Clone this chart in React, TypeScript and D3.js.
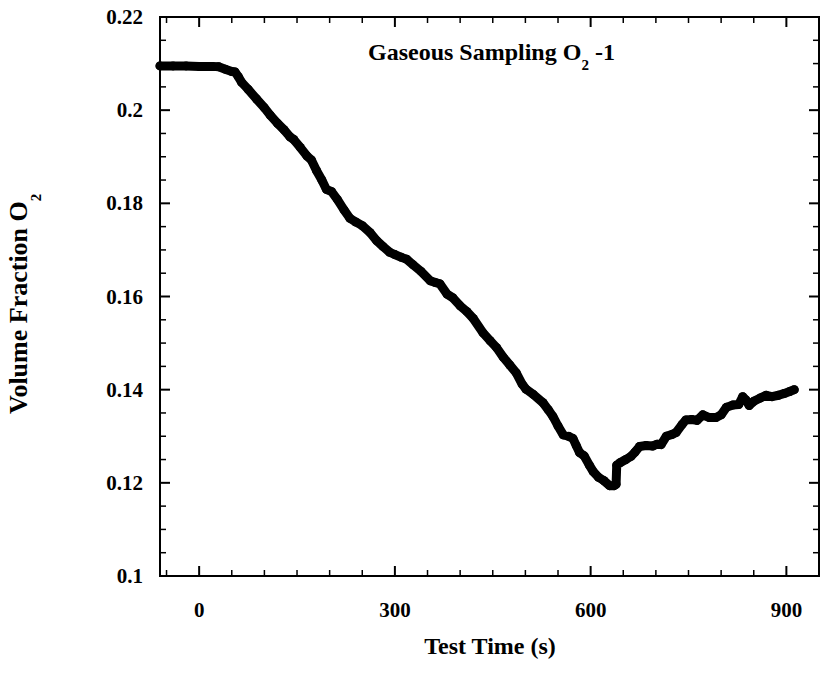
import React from "react";
import * as d3 from "d3";

const times: number[] = [-60, -40, -20, 0, 20, 30, 40, 50, 55, 60, 65, 75, 88, 100, 109, 120, 130, 139, 145, 155, 165, 172, 180, 188, 195, 203, 212, 222, 231, 240, 250, 262, 272, 282, 292, 300, 310, 318, 328, 340, 354, 362, 369, 380, 389, 400, 410, 420, 435, 446, 456, 466, 476, 486, 495, 501, 512, 527, 535, 542, 550, 558, 566, 573, 578, 583, 590, 598, 604, 612, 620, 629, 636, 639, 640, 645, 654, 662, 668, 675, 685, 695, 702, 708, 716, 725, 731, 740, 746, 755, 763, 772, 782, 792, 800, 808, 818, 827, 833, 838, 843, 850, 860, 869, 878, 888, 897, 905, 912];
const o2: number[] = [0.2095, 0.2095, 0.2095, 0.2094, 0.2094, 0.2093, 0.2088, 0.2083, 0.2082, 0.2072, 0.206, 0.2045, 0.2024, 0.2005, 0.1989, 0.1972, 0.1958, 0.1943, 0.1937, 0.192, 0.1902, 0.1893, 0.187, 0.185, 0.183, 0.1825, 0.1808, 0.1786, 0.1768, 0.176, 0.1752, 0.1737, 0.172, 0.1707, 0.1695, 0.169, 0.1684, 0.168, 0.1668, 0.1654, 0.1634, 0.163, 0.1627, 0.1605, 0.1597, 0.158, 0.1568, 0.1553, 0.1522, 0.1505, 0.149, 0.147, 0.1453, 0.1436, 0.1412, 0.1401, 0.139, 0.1372, 0.1357, 0.1343, 0.1322, 0.1303, 0.13, 0.1295, 0.128, 0.1265, 0.1258, 0.1238, 0.1224, 0.1212, 0.1205, 0.1194, 0.1194, 0.1197, 0.1238, 0.1243, 0.125, 0.1257, 0.1266, 0.1278, 0.128, 0.1279, 0.1283, 0.1282, 0.13, 0.1304, 0.1308, 0.1325, 0.1335, 0.1336, 0.1334, 0.1346, 0.134, 0.134, 0.1346, 0.1362, 0.1367, 0.1368, 0.1385, 0.1378, 0.1366, 0.1375, 0.1382, 0.1388, 0.1385, 0.1388, 0.1392, 0.1396, 0.14];

const xTicks: number[] = [0, 300, 600, 900];
const yTicks: number[] = [0.1, 0.12, 0.14, 0.16, 0.18, 0.2, 0.22];
const xTickLabels: string[] = ["0", "300", "600", "900"];
const yTickLabels: string[] = ["0.1", "0.12", "0.14", "0.16", "0.18", "0.2", "0.22"];

const W = 820, H = 678;
const L = 160, R = 819, T = 17, B = 576;
const FONT = "'Liberation Serif', 'Times New Roman', serif";

export default function App() {
  const x = d3.scaleLinear().domain([-60, 950]).range([L, R]);
  const y = d3.scaleLinear().domain([0.1, 0.22]).range([B, T]);
  const pts: [number, number][] = times.map((t, i) => [t, o2[i]]);
  const line = d3.line<[number, number]>().x(d => x(d[0])).y(d => y(d[1]));

  const xMinor = d3.range(-50, 951, 50).filter(v => !xTicks.includes(v));
  const yMinor = d3.range(0, 25).map(i => 0.1 + i * 0.005).filter(v => !yTicks.some(t => Math.abs(t - v) < 1e-9));

  return (
    <svg width={W} height={H} style={{ position: "absolute", left: 0, top: 0, background: "#fff" }} fontFamily={FONT}>
      <rect x={0} y={0} width={W} height={H} fill="#fff" />
      <rect x={L} y={T} width={R - L} height={B - T} fill="none" stroke="#000" strokeWidth={2} />
      {xTicks.map(v => (
        <g key={"xt" + v}>
          <line x1={x(v)} x2={x(v)} y1={B} y2={B - 10} stroke="#000" strokeWidth={2} />
          <line x1={x(v)} x2={x(v)} y1={T} y2={T + 10} stroke="#000" strokeWidth={2} />
        </g>
      ))}
      {xMinor.map(v => (
        <g key={"xm" + v}>
          <line x1={x(v)} x2={x(v)} y1={B} y2={B - 6} stroke="#000" strokeWidth={1.5} />
          <line x1={x(v)} x2={x(v)} y1={T} y2={T + 6} stroke="#000" strokeWidth={1.5} />
        </g>
      ))}
      {yTicks.map(v => (
        <g key={"yt" + v}>
          <line x1={L} x2={L + 10} y1={y(v)} y2={y(v)} stroke="#000" strokeWidth={2} />
          <line x1={R} x2={R - 10} y1={y(v)} y2={y(v)} stroke="#000" strokeWidth={2} />
        </g>
      ))}
      {yMinor.map(v => (
        <g key={"ym" + v}>
          <line x1={L} x2={L + 6} y1={y(v)} y2={y(v)} stroke="#000" strokeWidth={1.5} />
          <line x1={R} x2={R - 6} y1={y(v)} y2={y(v)} stroke="#000" strokeWidth={1.5} />
        </g>
      ))}
      {xTicks.map((v, i) => (
        <text key={"xl" + v} x={x(v)} y={617} textAnchor="middle" fontSize={21} fontWeight="bold">{xTickLabels[i]}</text>
      ))}
      {yTicks.map((v, i) => (
        <text key={"yl" + v} x={143} y={y(v) + 7} textAnchor="end" fontSize={21} fontWeight="bold">{yTickLabels[i]}</text>
      ))}
      <path d={line(pts) || ""} fill="none" stroke="#000" strokeWidth={9} strokeLinejoin="round" strokeLinecap="round" />
      {pts.map((p, i) => (
        <circle key={"c" + i} cx={x(p[0])} cy={y(p[1])} r={4.5} fill="#000" />
      ))}
      <text x={368} y={60} fontSize={24} fontWeight="bold">
        Gaseous Sampling O<tspan dy={10} fontSize={15}>2</tspan><tspan dy={-10}> -1</tspan>
      </text>
      <text x={490} y={654} textAnchor="middle" fontSize={24} fontWeight="bold">Test Time (s)</text>
      <text transform={`translate(27,414) rotate(-90)`} textAnchor="start" fontSize={26} fontWeight="bold">
        Volume Fraction O<tspan dy={14} fontSize={15}>2</tspan>
      </text>
    </svg>
  );
}
